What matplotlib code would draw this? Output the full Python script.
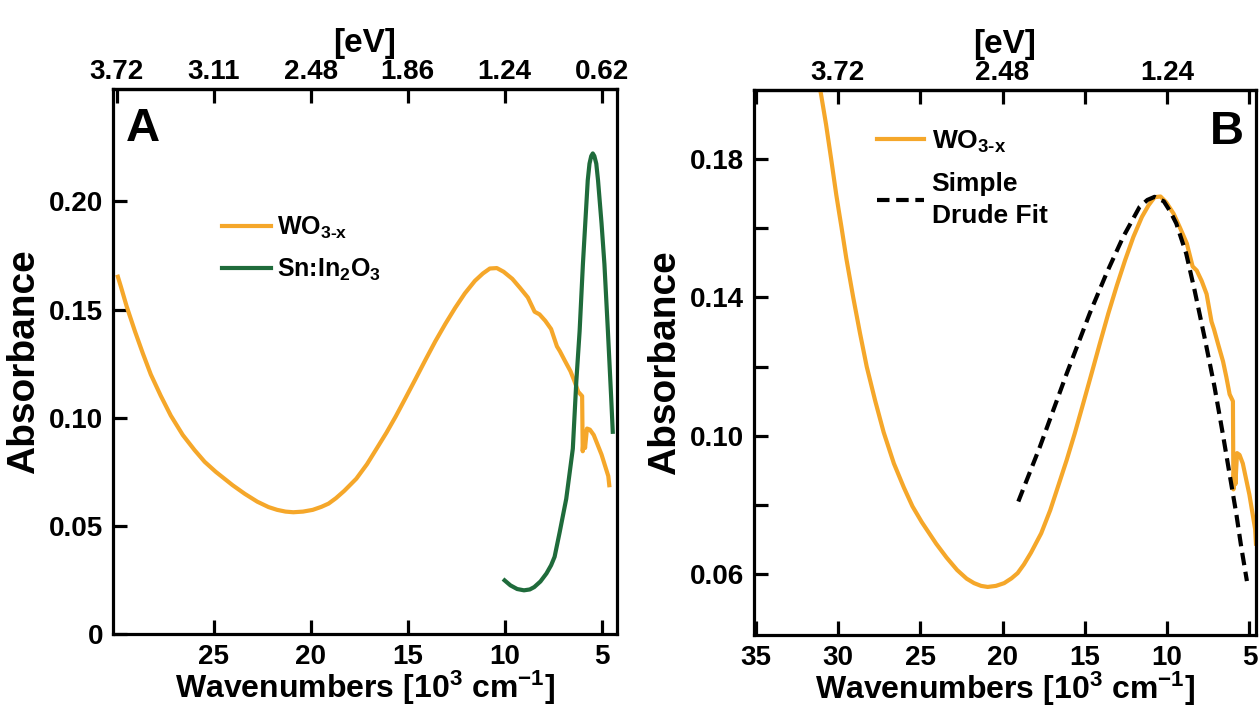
import numpy as np
import matplotlib
matplotlib.use("Agg")
import matplotlib.pyplot as plt

# WO3-x absorbance (wavenumber in 10^3 cm^-1)
wo3_wavenumber = [31.07, 30.72, 30.41, 30.10, 29.95, 29.79, 29.49, 29.07, 28.66, 28.25,
                  27.74, 27.22, 26.60, 25.99, 25.47, 24.90, 24.03, 23.40, 22.76, 22.18,
                  21.73, 21.30, 20.90, 20.40, 19.90, 19.45, 19.08, 18.70, 18.27, 17.65,
                  17.10, 16.63, 16.10, 15.61, 15.10, 14.59, 14.08, 13.57, 13.05, 12.55,
                  12.05, 11.53, 11.12, 10.76, 10.40, 10.05, 9.60, 9.20, 8.80, 8.45,
                  8.20, 7.90, 7.60, 7.30, 7.15, 6.90, 6.60, 6.40, 6.20, 6.00,
                  5.97, 5.90, 5.85, 5.75, 5.60, 5.40, 5.00, 4.65, 4.60]
wo3_absorbance = [0.2000, 0.1900, 0.1800, 0.1697, 0.1652, 0.1605, 0.1513, 0.1400, 0.1297, 0.1200,
                  0.1102, 0.1010, 0.0920, 0.0850, 0.0796, 0.0750, 0.0688, 0.0648, 0.0612, 0.0587,
                  0.0574, 0.0566, 0.0563, 0.0566, 0.0574, 0.0588, 0.0603, 0.0628, 0.0662, 0.0718,
                  0.0785, 0.0853, 0.0930, 0.1007, 0.1093, 0.1180, 0.1268, 0.1354, 0.1435, 0.1508,
                  0.1575, 0.1633, 0.1667, 0.1690, 0.1692, 0.1675, 0.1642, 0.1600, 0.1556, 0.1490,
                  0.1478, 0.1448, 0.1410, 0.1330, 0.1308, 0.1265, 0.1215, 0.1170, 0.1120, 0.1100,
                  0.0845, 0.0935, 0.0860, 0.0950, 0.0945, 0.0920, 0.0830, 0.0730, 0.0688]

# Sn:In2O3 absorbance
ito_wavenumber = [10.00, 9.70, 9.35, 9.00, 8.70, 8.47, 8.15, 7.84, 7.60, 7.42,
                  7.16, 6.82, 6.48, 6.30, 6.13, 5.96, 5.71, 5.62, 5.53, 5.45,
                  5.37, 5.27, 5.18, 5.00, 4.85, 4.67, 4.50, 4.42]
ito_absorbance = [0.0248, 0.0225, 0.0208, 0.0202, 0.0206, 0.0217, 0.0243, 0.0280, 0.0318, 0.0357,
                  0.0470, 0.0625, 0.0857, 0.1168, 0.1400, 0.1710, 0.2098, 0.2175, 0.2210, 0.2222,
                  0.2210, 0.2175, 0.2098, 0.1900, 0.1710, 0.1400, 0.1090, 0.0935]

# simple Drude fit to the WO3-x plasmon band
drude_wavenumber = [19.04, 17.73, 16.10, 14.70, 13.68, 12.67, 11.67, 11.20, 10.76, 10.20,
                    9.80, 9.44, 8.84, 8.33, 7.73, 7.12, 6.62, 6.21, 5.80, 5.50, 5.15]
drude_absorbance = [0.0810, 0.0968, 0.1180, 0.1354, 0.1470, 0.1575, 0.1662, 0.1682, 0.1691, 0.1678,
                    0.1648, 0.1614, 0.1527, 0.1421, 0.1286, 0.1142, 0.1007, 0.0891, 0.0776, 0.0680,
                    0.0580]

# tick positions / labels
a_bottom_ticks = [25, 20, 15, 10, 5]
a_top_ticks = [30, 25, 20, 15, 10, 5]
a_top_labels = ["3.72", "3.11", "2.48", "1.86", "1.24", "0.62"]
a_yticks = [0, 0.05, 0.10, 0.15, 0.20]
a_ylabels = ["0", "0.05", "0.10", "0.15", "0.20"]

b_bottom_ticks = [35, 30, 25, 20, 15, 10, 5]
b_top_labels = ["", "3.72", "", "2.48", "", "1.24", ""]
b_yticks = [0.06, 0.08, 0.10, 0.12, 0.14, 0.16, 0.18]
b_ylabels = ["0.06", "", "0.10", "", "0.14", "", "0.18"]

orange = "#F5A72A"
green = "#1F6B3B"

plt.rcParams["font.family"] = ["Liberation Sans", "DejaVu Sans"]
plt.rcParams["font.weight"] = "bold"
plt.rcParams["mathtext.fontset"] = "custom"
plt.rcParams["mathtext.rm"] = "Liberation Sans:bold"
plt.rcParams["mathtext.it"] = "Liberation Sans:bold"
plt.rcParams["mathtext.bf"] = "Liberation Sans:bold"
plt.rcParams["mathtext.default"] = "rm"

fig = plt.figure(figsize=(12.6, 7.08), dpi=100)
ax_a = fig.add_axes([0.0897, 0.1045, 0.400, 0.7698])
ax_b = fig.add_axes([0.5984, 0.1031, 0.3984, 0.7698])

xlabel = "Wavenumbers [10$^{3}$ cm$^{-1}$]"
tick_kw = dict(direction="in", length=10, width=2.3, labelsize=20)


def style_axes(ax):
    for side in ax.spines.values():
        side.set_linewidth(2.3)
    ax.tick_params(axis="both", pad=7, **tick_kw)
    ax.tick_params(axis="y", right=False)
    ax.set_ylabel("Absorbance", fontsize=28, fontweight="bold", labelpad=5)
    ax.set_xlabel(xlabel, fontsize=23, fontweight="bold", labelpad=-1)


def add_ev_axis(ax, ticks, labels):
    top = ax.secondary_xaxis("top")
    top.set_xticks(ticks, labels)
    top.tick_params(pad=3, **tick_kw)
    top.spines["top"].set_linewidth(2.3)
    top.set_xlabel("[eV]", fontsize=24, fontweight="bold", labelpad=5)
    return top


# panel A
wn = np.array(wo3_wavenumber)
ab = np.array(wo3_absorbance)
keep = wn <= 30.0
ax_a.plot(wn[keep], ab[keep], color=orange, lw=3, label="WO$_{3\\text{-}x}$")
ax_a.plot(ito_wavenumber, ito_absorbance, color=green, lw=3, label="Sn:In$_{2}$O$_{3}$")
ax_a.set_xlim(30.2, 4.2)
ax_a.set_ylim(0, 0.252)
ax_a.set_xticks(a_bottom_ticks)
ax_a.set_yticks(a_yticks, a_ylabels)
style_axes(ax_a)
add_ev_axis(ax_a, a_top_ticks, a_top_labels)
ax_a.text(0.026, 0.967, "A", transform=ax_a.transAxes, ha="left", va="top",
          fontsize=34, fontweight="bold")
ax_a.legend(loc="upper left", bbox_to_anchor=(0.216, 0.769), frameon=False,
            borderpad=0, borderaxespad=0, fontsize=18, handlelength=1.95,
            handletextpad=0.25, labelspacing=0.62)

# panel B
ax_b.plot(wo3_wavenumber, wo3_absorbance, color=orange, lw=3, label="WO$_{3\\text{-}x}$")
ax_b.plot(drude_wavenumber, drude_absorbance, color="black", lw=3, ls=(0, (3, 1.6)),
          label="Simple\nDrude Fit")
ax_b.set_xlim(35.1, 4.6)
ax_b.set_ylim(0.0424, 0.200)
ax_b.set_xticks(b_bottom_ticks)
ax_b.set_yticks(b_yticks, b_ylabels)
style_axes(ax_b)
add_ev_axis(ax_b, b_bottom_ticks, b_top_labels)
ax_b.text(0.976, 0.963, "B", transform=ax_b.transAxes, ha="right", va="top",
          fontsize=34, fontweight="bold")
leg_b = ax_b.legend(loc="upper left", bbox_to_anchor=(0.245, 0.929), frameon=False,
                    borderpad=0, borderaxespad=0, fontsize=19, handlelength=1.8,
                    handletextpad=0.27, labelspacing=0.65)
leg_b.get_texts()[1].set_linespacing(1.4)

fig.savefig("out.png", dpi=100)
